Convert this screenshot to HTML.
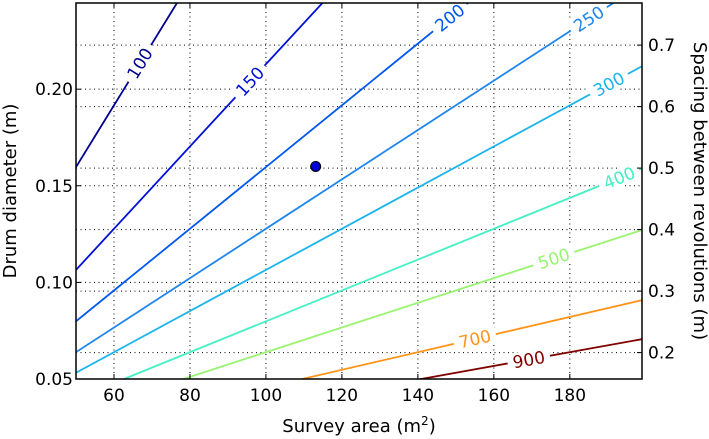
<!DOCTYPE html>
<html><head><meta charset="utf-8"><style>
html,body{margin:0;padding:0;background:#fff;}
svg{display:block;font-family:"DejaVu Sans","Liberation Sans",sans-serif;}
</style></head><body>
<svg id="chart" width="709" height="439" viewBox="0 0 709 439" xmlns="http://www.w3.org/2000/svg">
<g id="grid"></g>
<g id="lines"></g>
<g id="labels"></g>
<g id="pts"></g>
<rect x="76" y="3" width="566" height="376" fill="none" stroke="#000" stroke-width="1.5"/>
<g id="axes"></g>
<text x="359" y="432" font-size="18" text-anchor="middle">Survey area (m<tspan font-size="12" dy="-7">2</tspan><tspan dy="7">)</tspan></text>
<text transform="translate(16,191) rotate(-90)" font-size="18" text-anchor="middle">Drum diameter (m)</text>
<text transform="translate(694,191) rotate(90)" font-size="18" text-anchor="middle">Spacing between revolutions (m)</text>
</svg>
<script>
const xTicks=[60,80,100,120,140,160,180];
const yTicks=[0.05,0.10,0.15,0.20];
const yTickLabels=["0.05","0.10","0.15","0.20"];
const rTicks=[0.2,0.3,0.4,0.5,0.6,0.7];
const rTickLabels=["0.2","0.3","0.4","0.5","0.6","0.7"];
const levels=[100,150,200,250,300,400,500,700,900];
const levelColors=["#00008f","#0010d8","#0058f0","#1e86ec","#1cb4ec","#44f0c4","#98f470","#ff9418","#800000"];
const labelAreas=[66.8,95.8,148.4,185,190.3,193,175.8,155,169.2];
const coef=[0.3194];
const pointArea=[113.1];
const pointDiam=[0.16];

const X0=76,X1=642,Y0=379,Y1=3,AMIN=50,AMAX=199,DMIN=0.05,DMAX=0.2446;
const sx=a=>X0+(a-AMIN)/(AMAX-AMIN)*(X1-X0);
const sy=d=>Y0-(d-DMIN)/(DMAX-DMIN)*(Y0-Y1);
const NS="http://www.w3.org/2000/svg";
function mk(tag,parent,attrs){const e=document.createElementNS(NS,tag);for(const k in attrs)e.setAttribute(k,attrs[k]);parent.appendChild(e);return e;}
const grid=document.getElementById('grid'),axes=document.getElementById('axes');
const lines=document.getElementById('lines'),labels=document.getElementById('labels'),pts=document.getElementById('pts');
const gs={stroke:"#000","stroke-width":1,"stroke-dasharray":"1,3.5",fill:"none"};
xTicks.forEach((v,i)=>{
  const x=sx(v);
  const g=mk('line',grid,Object.assign({x1:x,x2:x,y1:Y1,y2:Y0},gs));
  
  
  const t=mk('line',axes,{x1:x,x2:x,y1:Y0,y2:Y0-5,stroke:"#000"});
  
  
  const t2=mk('line',axes,{x1:x,x2:x,y1:Y1,y2:Y1+5,stroke:"#000"});
  
  
  const l=mk('text',axes,{x:x,y:Y0+22,"font-size":17,"text-anchor":"middle"});l.textContent=v;
  
  
});
yTicks.forEach((v,i)=>{
  const y=sy(v);
  if(i>0){const g=mk('line',grid,Object.assign({x1:X0,x2:X1,y1:y,y2:y},gs));
  
  }
  const t=mk('line',axes,{x1:X0,x2:X0+5,y1:y,y2:y,stroke:"#000"});
  
  
  const l=mk('text',axes,{x:X0-3,y:y+6,"font-size":17,"text-anchor":"end"});l.textContent=yTickLabels[i];
  
  
});
rTicks.forEach((v,i)=>{
  const y=sy(v/Math.PI);
  const g=mk('line',grid,Object.assign({x1:X0,x2:X1,y1:y,y2:y},gs));
  
  
  const t=mk('line',axes,{x1:X1-5,x2:X1,y1:y,y2:y,stroke:"#000"});
  
  
  const l=mk('text',axes,{x:X1+6,y:y+6,"font-size":17,"text-anchor":"start"});l.textContent=rTickLabels[i];
  
  
});
const defs=mk('defs',document.getElementById('chart'),{});
const cp=mk('clipPath',defs,{id:'clip'});mk('rect',cp,{x:X0,y:Y1,width:X1-X0,height:Y0-Y1});
lines.setAttribute('clip-path','url(#clip)');
levels.forEach((T,i)=>{
  const dOf=a=>coef[0]*a/T;
  const p=mk('line',lines,{x1:sx(AMIN),y1:sy(dOf(AMIN)),x2:sx(AMAX),y2:sy(dOf(AMAX)),stroke:levelColors[i],"stroke-width":1.8});
  
  
  const a=labelAreas[i],x=sx(a),y=sy(dOf(a));
  const ang=Math.atan2(sy(dOf(a+1))-y,sx(a+1)-x)*180/Math.PI;
  const g=mk('g',labels,{transform:`translate(${x},${y}) rotate(${ang})`});
  
  
  const w=String(T).length*11+10;
  mk('rect',g,{x:-w/2,y:-9,width:w,height:18,fill:"#fff"});
  const t=mk('text',g,{x:0,y:6,"font-size":17,"text-anchor":"middle",fill:levelColors[i]});t.textContent=T;
});
pointArea.forEach((a,i)=>{
  const c=mk('circle',pts,{cx:sx(a),cy:sy(pointDiam[i]),r:5,fill:"#0000d0",stroke:"#000","stroke-width":1});
  
  
});
</script>
</body></html>
